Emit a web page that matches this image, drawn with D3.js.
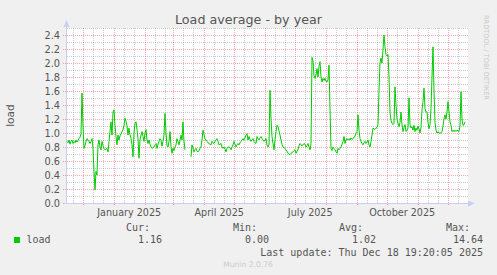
<!DOCTYPE html>
<html><head><meta charset="utf-8">
<script src="https://cdn.jsdelivr.net/npm/d3@7"></script>
<style>body{margin:0;background:#F0F0F0}svg{display:block}</style>
</head><body><svg id="c" width="497" height="275"></svg>
<script>
const titleText = "Load average - by year";
const yAxisLabel = "load";
const periodStart = new Date(2024, 10, 13, 19, 20);
const periodEnd = new Date(2025, 11, 18, 19, 20);
const firstDate = new Date(2024, 10, 14, 19, 20);
// daily load values (null = no data)
const loadValues = [
0.88,0.86,0.90,0.84,0.88,0.90,0.85,0.88,0.86,0.90,0.87,0.89,0.92,0.94,0.99,
1.57,1.10,0.78,0.82,0.88,0.92,0.90,0.88,0.85,0.88,0.92,0.78,0.45,0.19,0.45,0.40,
0.83,0.90,0.80,0.76,0.88,0.82,0.78,0.76,0.77,0.78,0.73,0.88,1.02,1.16,0.97,1.30,1.33,1.11,0.95,0.83,
0.97,0.90,0.96,0.99,1.02,1.05,1.11,1.21,1.17,1.10,0.97,1.07,0.98,0.92,0.83,0.66,1.00,1.14,1.16,1.05,0.92,0.64,0.90,0.97,1.02,0.95,0.88,1.00,1.05,0.90,
0.85,0.90,0.84,0.80,0.78,0.79,0.80,0.83,0.85,0.78,0.84,0.88,0.92,0.90,0.81,0.88,0.97,1.28,1.00,0.82,0.80,0.88,1.02,0.81,0.71,0.78,0.75,0.80,0.83,0.92,0.88,0.83,0.90,0.97,0.90,1.16,0.88,0.76,
null,null,null,null,null,
0.66,0.83,0.78,0.73,0.76,0.78,0.74,0.73,0.75,0.78,0.80,0.90,1.04,0.98,0.92,0.90,0.88,0.86,0.85,0.84,0.83,0.88,0.86,0.85,0.88,0.90,0.92,0.88,0.83,0.84,0.85,0.80,0.78,0.80,0.77,0.73,0.78,0.80,
0.80,0.79,0.76,0.80,0.83,0.88,0.84,0.80,0.83,0.85,0.83,0.86,0.88,0.90,0.92,0.90,0.93,0.97,0.99,0.90,0.95,0.91,0.88,0.90,0.92,0.88,0.86,0.85,0.95,0.92,0.90,0.93,0.95,0.92,0.90,0.88,0.90,0.92,0.83,0.80,0.83,1.61,1.21,0.95,0.85,0.76,0.90,1.02,1.11,1.09,1.03,0.97,0.90,0.84,0.80,0.79,0.78,0.76,0.74,0.71,0.70,0.69,0.71,0.72,0.73,0.75,0.76,0.71,0.74,0.76,0.82,0.85,0.83,0.82,0.83,0.85,0.84,0.80,0.82,0.85,0.80,0.76,0.85,
2.08,2.03,1.82,1.78,1.83,1.92,1.80,1.95,2.02,1.80,1.73,1.78,1.75,1.78,1.74,1.73,1.76,1.97,1.35,
0.78,0.75,0.80,0.78,0.76,0.73,0.71,0.78,0.76,0.78,0.80,0.84,0.88,0.95,0.85,0.90,0.92,0.90,0.92,0.90,0.93,0.91,0.92,0.94,0.95,1.00,1.02,1.26,1.04,0.92,0.88,0.85,0.83,0.86,0.88,0.85,0.87,0.90,0.83,0.80,0.88,0.97,1.07,1.06,1.05,1.07,1.08,1.12,
1.61,2.00,2.07,2.00,2.20,2.40,2.23,2.12,2.10,2.12,1.80,1.30,1.18,1.14,1.12,1.14,1.66,1.40,1.20,1.14,1.09,1.15,1.30,1.12,1.02,1.08,1.12,1.02,1.04,1.07,1.50,1.12,1.07,1.09,1.04,1.11,1.02,1.07,1.04,1.10,1.06,1.00,1.08,1.33,1.45,1.64,1.35,1.30,1.30,1.15,1.06,1.12,1.35,1.80,2.23,1.60,1.15,1.04,1.00,1.02,1.00,1.00,1.00,1.02,1.10,1.20,1.26,1.20,1.30,1.45,1.30,1.16,1.11,1.02,1.04,1.02,1.04,1.02,1.04,1.03,1.02,1.10,1.59,1.20,1.11,1.12,1.16
];
const yTickValues = [0.0,0.2,0.4,0.6,0.8,1.0,1.2,1.4,1.6,1.8,2.0,2.2,2.4];
const xLabelDates = [new Date(2025,0,16), new Date(2025,3,16), new Date(2025,6,16), new Date(2025,9,16)];
const xLabelTexts = ["January 2025","April 2025","July 2025","October 2025"];
const legendHeads = ["Cur:","Min:","Avg:","Max:"];
const legendValues = ["1.16","0.00","1.02","14.64"];
const seriesName = "load";
const lastUpdate = "Last update: Thu Dec 18 19:20:05 2025";
const versionText = "Munin 2.0.76";
const sideText = "RRDTOOL / TOBI OETIKER";

const svg = d3.select("#c");
const x = d3.scaleTime().domain([periodStart, periodEnd]).range([66, 466]);
const y = d3.scaleLinear().domain([0, 2.5]).range([203, 28]);
const axisColor = "#C9D0F4";
const minorColor = "rgba(128,128,128,0.40)";
const majorColor = "rgba(235,40,40,0.40)";
const textColor = "#555";

// canvas
svg.append("rect").attr("x", 66).attr("y", 28).attr("width", 402).attr("height", 175).attr("fill", "#fff");

// horizontal grid
const gy = svg.append("g").attr("shape-rendering", "crispEdges");
d3.range(0, 26).forEach(i => {
  const v = i / 10;
  const major = i % 2 === 0 && i <= 24;
  const yy = Math.round(y(v)) + 0.5;
  gy.append("line").attr("x1", major ? 63 : 67).attr("x2", 468).attr("y1", yy).attr("y2", yy)
    .attr("stroke", major ? majorColor : minorColor).attr("stroke-dasharray", "1,1");
});
// vertical grid
const days = d3.timeDay.range(periodStart, periodEnd).filter(d => [1, 11, 21].includes(d.getDate()));
days.forEach(d => {
  const major = d.getDate() === 1;
  const xx = Math.round(x(d)) + 0.5;
  gy.append("line").attr("x1", xx).attr("x2", xx).attr("y1", 28).attr("y2", major ? 206 : 203)
    .attr("stroke", major ? majorColor : minorColor).attr("stroke-dasharray", "1,1");
});

// y tick labels
svg.append("g").selectAll("text").data(yTickValues).join("text")
  .attr("x", 60).attr("y", d => y(d) + 3.5).attr("text-anchor", "end")
  .attr("font-family", "DejaVu Sans").attr("font-size", 9.8).attr("fill", textColor)
  .text(d => d3.format(".1f")(d));
// x labels
svg.append("g").selectAll("text").data(xLabelDates).join("text")
  .attr("x", d => x(d)).attr("y", 215.5).attr("text-anchor", "middle")
  .attr("font-family", "DejaVu Sans").attr("font-size", 9.6).attr("fill", textColor)
  .text((d, i) => xLabelTexts[i]);

// axes
const ax = svg.append("g");
ax.append("line").attr("x1", 66.5).attr("x2", 66.5).attr("y1", 203).attr("y2", 25).attr("stroke", axisColor);
ax.append("line").attr("x1", 64).attr("x2", 470).attr("y1", 203.5).attr("y2", 203.5).attr("stroke", axisColor);
ax.append("path").attr("d", "M63.5,27 L66.5,20 L69.5,27 Z").attr("fill", axisColor);
ax.append("path").attr("d", "M468,200.5 L475,203.5 L468,206.5 Z").attr("fill", axisColor);

// data line
const data = loadValues.map((v, i) => ({ date: d3.timeDay.offset(firstDate, i), v }));
const line = d3.line().defined(d => d.v !== null).x(d => x(d.date)).y(d => y(d.v));
svg.append("path").datum(data).attr("d", line).attr("fill", "none")
  .attr("stroke", "#00CC00").attr("stroke-width", 1).attr("stroke-linejoin", "round");

// title
svg.append("text").attr("x", 248.5).attr("y", 24).attr("text-anchor", "middle")
  .attr("font-family", "DejaVu Sans").attr("font-size", 12.7).attr("fill", textColor).text(titleText);
// y axis label
svg.append("text").attr("transform", "translate(14,115.5) rotate(-90)").attr("text-anchor", "middle")
  .attr("font-family", "DejaVu Sans").attr("font-size", 10.6).attr("fill", textColor).text(yAxisLabel);
// side watermark
svg.append("text").attr("transform", "translate(484,15) rotate(90)")
  .attr("font-family", "DejaVu Sans").attr("font-size", 6.6).attr("fill", "#C8C8C8").text(sideText);

// legend
const mono = "DejaVu Sans Mono";
const headX = [150, 257, 363, 470];
const valX = [162, 269, 376, 483];
legendHeads.forEach((h, i) => {
  svg.append("text").attr("x", headX[i]).attr("y", 231).attr("text-anchor", "end")
    .attr("font-family", mono).attr("font-size", 10).attr("fill", textColor).text(h);
  svg.append("text").attr("x", valX[i]).attr("y", 243).attr("text-anchor", "end")
    .attr("font-family", mono).attr("font-size", 10).attr("fill", textColor).text(legendValues[i]);
});
svg.append("rect").attr("x", 14).attr("y", 237).attr("width", 6).attr("height", 6).attr("fill", "#00CC00");
svg.append("text").attr("x", 26.5).attr("y", 243).attr("font-family", mono).attr("font-size", 10)
  .attr("fill", textColor).text(seriesName);
svg.append("text").attr("x", 483).attr("y", 255.5).attr("text-anchor", "end").attr("font-family", mono)
  .attr("font-size", 10).attr("fill", textColor).text(lastUpdate);
svg.append("text").attr("x", 248).attr("y", 267).attr("text-anchor", "middle").attr("font-family", "DejaVu Sans")
  .attr("font-size", 7.6).attr("fill", "#CCCCCC").text(versionText);
</script></body></html>
